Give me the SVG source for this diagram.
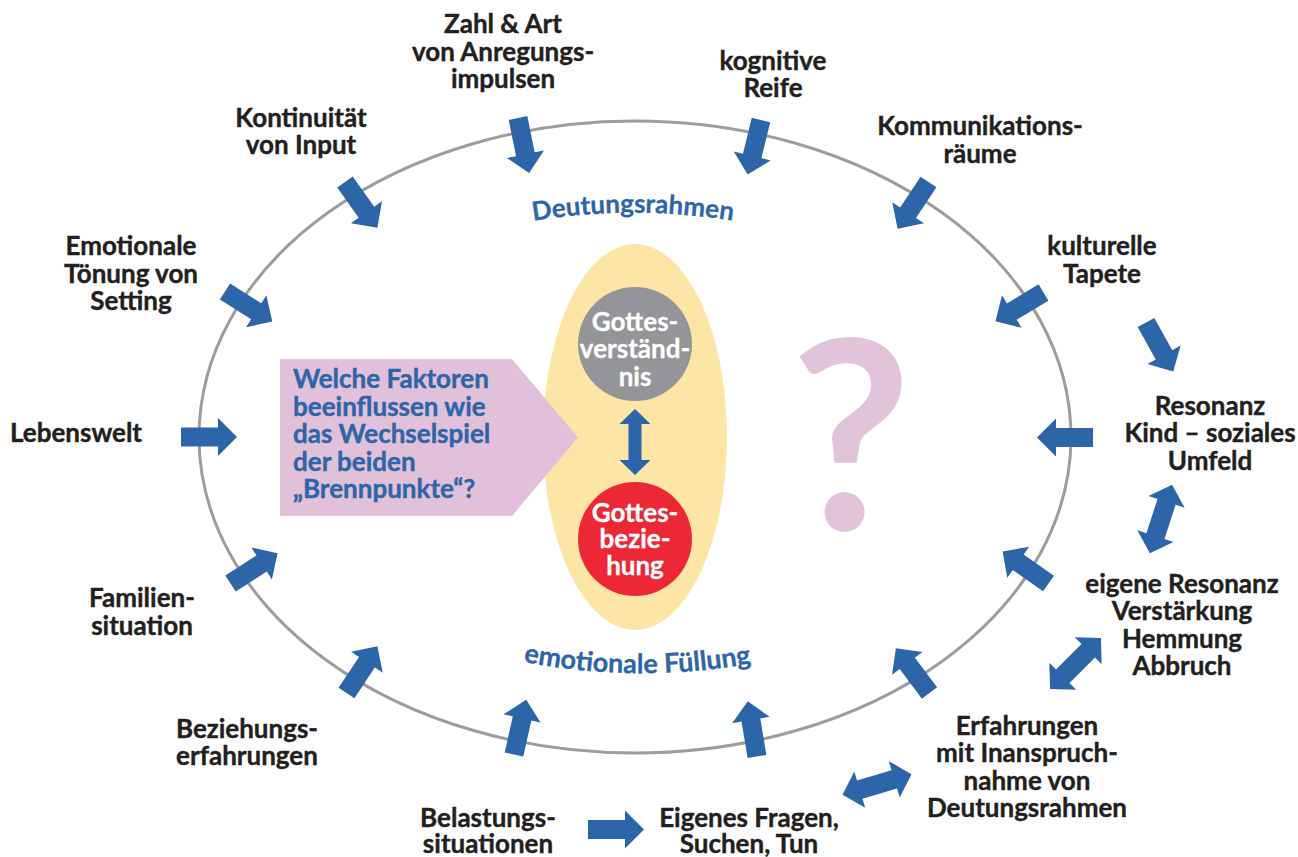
<svg xmlns="http://www.w3.org/2000/svg" xmlns:xlink="http://www.w3.org/1999/xlink" width="1298" height="857" viewBox="0 0 1298 857">
<style>
.lbl{font-family:Lato,"Open Sans","Liberation Sans",sans-serif;font-weight:700;font-size:26px;fill:#231f20;stroke:#231f20;stroke-width:0.4px;text-anchor:middle}
.blue{font-family:Lato,"Open Sans","Liberation Sans",sans-serif;font-weight:700;font-size:26px;fill:#2e64a8;stroke:#2e64a8;stroke-width:0.4px}
.arc{font-family:Lato,"Open Sans","Liberation Sans",sans-serif;font-weight:700;font-size:26px;fill:#2e64a8;stroke:#2e64a8;stroke-width:0.3px;text-anchor:middle}
.wt{font-family:Lato,"Open Sans","Liberation Sans",sans-serif;font-weight:700;font-size:26px;fill:#ffffff;stroke:#ffffff;stroke-width:0.3px;text-anchor:middle}
.arr{fill:#2d65a9}
</style>
<defs>
<path id="a1" d="M0,-9.5 H37 V-19 L56,0 L37,19 V9.5 H0 Z"/>
<path id="d1" d="M-36,0 L-18,-19 V-9.5 H18 V-19 L36,0 L18,19 V9.5 H-18 V19 Z"/>
<path id="d2" d="M-33,0 L-18,-15.5 V-6.5 H18 V-15.5 L33,0 L18,15.5 V6.5 H-18 V15.5 Z"/>
<path id="topArc" d="M510,225 A625,625 0 0 1 756,225"/>
<path id="botArc" d="M505,658 A625,625 0 0 0 770,660"/>
</defs>
<rect width="1298" height="857" fill="#ffffff"/>
<g id="frame">
<ellipse cx="635" cy="437" rx="436" ry="316" fill="none" stroke="#9d9d9d" stroke-width="3"/>
</g>
<g id="focus">
<ellipse cx="635" cy="437" rx="92" ry="193" fill="#fde5a6"/>
</g>
<g id="question">
<path d="M280,359 H512 L578,437.5 L512,516 H280 Z" fill="#e0c1d9"/>
<text class="blue" x="293" y="388">Welche Faktoren</text>
<text class="blue" x="293" y="416">beeinflussen wie</text>
<text class="blue" x="293" y="443">das Wechselspiel</text>
<text class="blue" x="293" y="471">der beiden</text>
<text class="blue" x="293" y="498">„Brennpunkte“?</text>
</g>
<g id="qmark">
<text x="851" y="530" style="font-family:Lato,'Open Sans',sans-serif;font-weight:700;font-size:264px;fill:#e1c3da;text-anchor:middle">?</text>
</g>
<g id="gottesverstaendnis">
<circle cx="635" cy="344" r="57" fill="#939598"/>
<text class="wt" x="635" y="331">Gottes-</text>
<text class="wt" x="635" y="358">verständ-</text>
<text class="wt" x="635" y="386">nis</text>
</g>
<g id="gottesbeziehung">
<circle cx="635" cy="539" r="57" fill="#ec2837"/>
<text class="wt" x="635" y="522">Gottes-</text>
<text class="wt" x="635" y="548">bezie-</text>
<text class="wt" x="635" y="575">hung</text>
</g>
<g id="deutungsrahmen">
<text class="arc"><textPath xlink:href="#topArc" href="#topArc" startOffset="50%">Deutungsrahmen</textPath></text>
</g>
<g id="emotionale-fuellung">
<text class="arc" style="font-size:27px"><textPath xlink:href="#botArc" href="#botArc" startOffset="50%">emotionale Füllung</textPath></text>
</g>
<g id="zahl-art">
<text class="lbl" x="503" y="33">Zahl &amp; Art</text>
<text class="lbl" x="503" y="61">von Anregungs-</text>
<text class="lbl" x="503" y="88">impulsen</text>
</g>
<g id="kognitive-reife">
<text class="lbl" x="773" y="70">kognitive</text>
<text class="lbl" x="773" y="97">Reife</text>
</g>
<g id="kontinuitaet">
<text class="lbl" x="301" y="127">Kontinuität</text>
<text class="lbl" x="301" y="154">von Input</text>
</g>
<g id="kommunikationsraeume">
<text class="lbl" x="980" y="135">Kommunikations-</text>
<text class="lbl" x="980" y="163">räume</text>
</g>
<g id="kulturelle-tapete">
<text class="lbl" x="1102" y="255">kulturelle</text>
<text class="lbl" x="1102" y="283">Tapete</text>
</g>
<g id="emotionale-toenung">
<text class="lbl" x="131" y="255">Emotionale</text>
<text class="lbl" x="131" y="283">Tönung von</text>
<text class="lbl" x="131" y="310">Setting</text>
</g>
<g id="lebenswelt">
<text class="lbl" x="76" y="442">Lebenswelt</text>
</g>
<g id="resonanz">
<text class="lbl" x="1210" y="415">Resonanz</text>
<text class="lbl" x="1210" y="442">Kind – soziales</text>
<text class="lbl" x="1210" y="470">Umfeld</text>
</g>
<g id="eigene-resonanz">
<text class="lbl" x="1182" y="593">eigene Resonanz</text>
<text class="lbl" x="1182" y="620">Verstärkung</text>
<text class="lbl" x="1182" y="648">Hemmung</text>
<text class="lbl" x="1182" y="675">Abbruch</text>
</g>
<g id="familiensituation">
<text class="lbl" x="142" y="607">Familien-</text>
<text class="lbl" x="142" y="635">situation</text>
</g>
<g id="beziehungserfahrungen">
<text class="lbl" x="247" y="738">Beziehungs-</text>
<text class="lbl" x="247" y="765">erfahrungen</text>
</g>
<g id="belastungssituationen">
<text class="lbl" x="488" y="827">Belastungs-</text>
<text class="lbl" x="488" y="853">situationen</text>
</g>
<g id="eigenes-fragen">
<text class="lbl" x="749" y="827">Eigenes Fragen,</text>
<text class="lbl" x="749" y="853">Suchen, Tun</text>
</g>
<g id="erfahrungen">
<text class="lbl" x="1027" y="735">Erfahrungen</text>
<text class="lbl" x="1027" y="762">mit Inanspruch-</text>
<text class="lbl" x="1027" y="790">nahme von</text>
<text class="lbl" x="1027" y="817">Deutungsrahmen</text>
</g>
<g id="connectors" class="arr">
<use href="#a1" xlink:href="#a1" transform="translate(518,118) rotate(78.5)"/>
<use href="#a1" xlink:href="#a1" transform="translate(761,120) rotate(103.8)"/>
<use href="#a1" xlink:href="#a1" transform="translate(345,182) rotate(54.6)"/>
<use href="#a1" xlink:href="#a1" transform="translate(928.5,182) rotate(123.5)"/>
<use href="#a1" xlink:href="#a1" transform="translate(1043.5,292.5) rotate(149)"/>
<use href="#a1" xlink:href="#a1" transform="translate(1146,322.5) rotate(60.9)"/>
<use href="#a1" xlink:href="#a1" transform="translate(1093,437.5) rotate(180)"/>
<use href="#a1" xlink:href="#a1" transform="translate(1048.5,583.5) rotate(-145)"/>
<use href="#a1" xlink:href="#a1" transform="translate(929.5,693) rotate(-126.9)"/>
<use href="#a1" xlink:href="#a1" transform="translate(757,756.5) rotate(-99.5)"/>
<use href="#a1" xlink:href="#a1" transform="translate(514,754.5) rotate(-77.4)"/>
<use href="#a1" xlink:href="#a1" transform="translate(346.5,693) rotate(-56.5)"/>
<use href="#a1" xlink:href="#a1" transform="translate(230.5,583.5) rotate(-32.7)"/>
<use href="#a1" xlink:href="#a1" transform="translate(181,437) rotate(0)"/>
<use href="#a1" xlink:href="#a1" transform="translate(225,291.5) rotate(32.4)"/>
<use href="#a1" xlink:href="#a1" transform="translate(588,829.5) rotate(0)"/>
<use href="#d1" xlink:href="#d1" transform="translate(1161,519) rotate(-72)"/>
<use href="#d1" xlink:href="#d1" transform="translate(1075.5,663.5) rotate(-45)"/>
<use href="#d1" xlink:href="#d1" transform="translate(877,784.5) rotate(-16.7)"/>
<use href="#d2" xlink:href="#d2" transform="translate(635,442) rotate(90)"/>
</g>
</svg>
